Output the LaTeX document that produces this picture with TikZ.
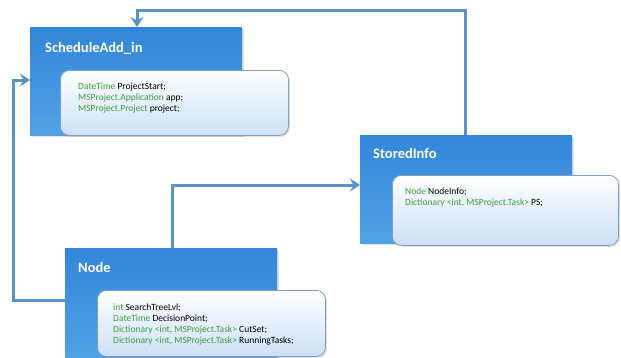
\documentclass[tikz,border=0pt]{standalone}
\usepackage{fontspec}
\setmainfont{Carlito}
\usetikzlibrary{arrows.meta,shadows}
\definecolor{boxtop}{HTML}{3286D8}
\definecolor{boxbot}{HTML}{52A2E6}
\definecolor{lineblue}{HTML}{5A92C6}
\definecolor{innerbot}{HTML}{CCE0F6}
\definecolor{innerdraw}{HTML}{7F9DBF}
\definecolor{codegreen}{HTML}{3E9E3E}
\tikzset{
  outerbox/.style={rectangle, draw=none, top color=boxtop, bottom color=boxbot,
    anchor=north west, inner sep=0pt, drop shadow={opacity=0.25,shadow xshift=2pt,shadow yshift=-2pt}},
  innerbox/.style={rectangle, rounded corners=9pt, draw=innerdraw, line width=0.8pt,
    top color=white, bottom color=innerbot, anchor=north west, inner sep=0pt,
    drop shadow={opacity=0.25,shadow xshift=1.5pt,shadow yshift=-1.5pt}},
  title/.style={anchor=west, text=white, font=\fontsize{14.5}{16}\selectfont\bfseries, inner sep=0pt},
  code/.style={anchor=north west, align=left, font=\fontsize{9.5}{10.8}\selectfont, inner sep=0pt},
  conn/.style={draw=lineblue, line width=3pt, -{Stealth[length=10pt,width=13pt,inset=3.5pt]}}
}
\newcommand{\gr}[1]{\textcolor{codegreen}{#1}}
\begin{document}
\begin{tikzpicture}[x=1pt,y=-1pt]
\useasboundingbox[fill=white] (0,0) rectangle (621,357);
% outer boxes
\node[outerbox, minimum width=212pt, minimum height=108pt] (sched) at (30,27) {};
\node[outerbox, minimum width=212pt, minimum height=108pt] (stored) at (360,135) {};
\node[outerbox, minimum width=212pt, minimum height=112pt] (node) at (65,248) {};
% inner boxes
\node[innerbox, minimum width=228pt, minimum height=65pt] (schedIn) at (60,70) {};
\node[innerbox, minimum width=226pt, minimum height=70pt] (storedIn) at (392,175) {};
\node[innerbox, minimum width=228pt, minimum height=66pt] (nodeIn) at (97,290) {};
% titles
\node[title] (schedT) at (45,48) {ScheduleAdd\_in};
\node[title] (storedT) at (373,153) {StoredInfo};
\node[title] (nodeT) at (78,267) {Node};
% code
\node[code] (schedC) at (78,83) {\gr{DateTime} ProjectStart;\\
\gr{MSProject.Application} app;\\
\gr{MSProject.Project} project;};
\node[code] (storedC) at (405,188) {\gr{Node} NodeInfo;\\
\gr{Dictionary <int, MSProject.Task>} PS;};
\node[code] (nodeC) at (113,304) {\gr{int} SearchTreeLvl;\\
\gr{DateTime} DecisionPoint;\\
\gr{Dictionary <int, MSProject.Task>} CutSet;\\
\gr{Dictionary <int, MSProject.Task>} RunningTasks;};
% connectors
\coordinate (c1) at (465,10);
\coordinate (c2) at (137,10);
\coordinate (c3) at (172,185);
\coordinate (c4) at (13,300);
\coordinate (c5) at (13,80);
\draw[conn] (stored.north -| c1) -- (c1) -- (c2) -- (sched.north -| c2);
\draw[conn] (node.north -| c3) -- (c3) -- (stored.west |- c3);
\draw[conn] (node.west |- c4) -- (c4) -- (c5) -- (sched.west |- c5);
\end{tikzpicture}
\end{document}
